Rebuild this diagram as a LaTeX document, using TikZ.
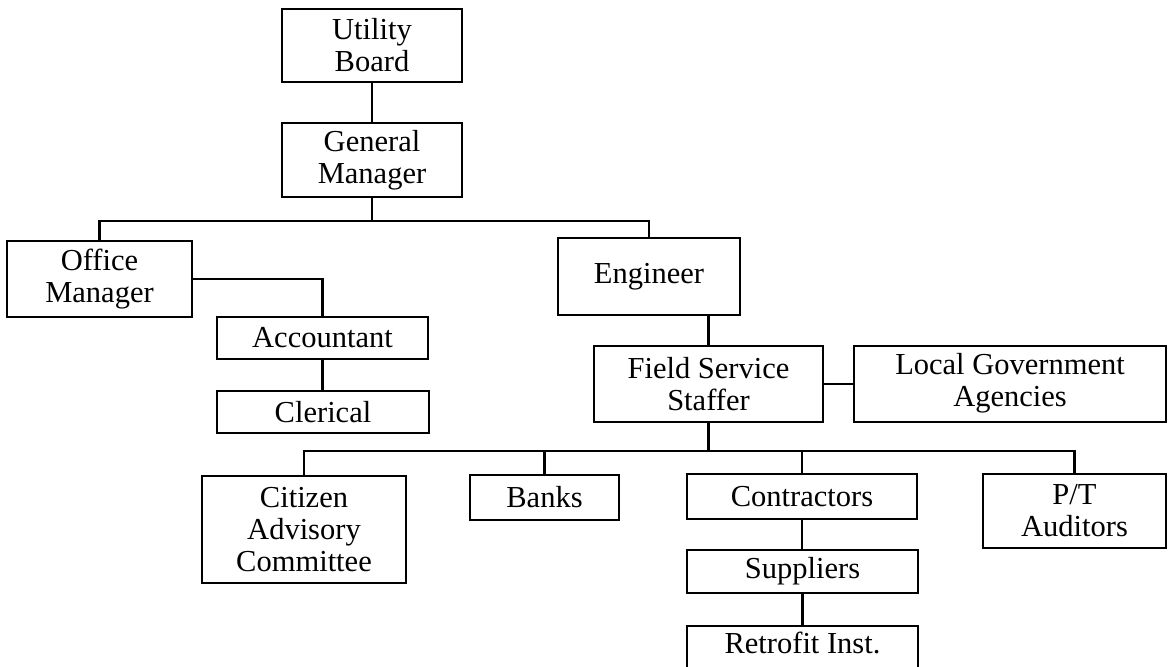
\documentclass[tikz,border=0pt]{standalone}
\usepackage{fontspec}
\setmainfont{Liberation Serif}
\begin{document}
\begin{tikzpicture}[x=1pt,y=-1pt,
  box/.style={draw=black, line width=2pt, rectangle, inner sep=0pt, align=center,
    font=\fontsize{30.5}{32}\selectfont},
  conn/.style={draw=black, line width=2.6pt}]
\useasboundingbox (0,0) rectangle (1168,667);
\clip (0,0) rectangle (1168,667);
\fill[white] (0,0) rectangle (1168,667);
% boxes
\node[box, minimum width=180pt, minimum height=73pt] (ub) at (372,45.5) {Utility\\Board};
\node[box, minimum width=180pt, minimum height=74pt] (gm) at (372,160) {General\\Manager};
\node[box, minimum width=185pt, minimum height=76pt] (om) at (99.5,279) {Office\\Manager};
\node[box, minimum width=211pt, minimum height=42pt] (acc) at (322.5,338) {Accountant};
\node[box, minimum width=212pt, minimum height=42pt] (cle) at (323,412) {Clerical};
\node[box, minimum width=182pt, minimum height=77pt] (eng) at (649,276.5) {Engineer};
\node[box, minimum width=229pt, minimum height=76pt] (fss) at (708.5,384) {Field Service\\Staffer};
\node[box, minimum width=312pt, minimum height=76pt] (lga) at (1010,383.5) {Local Government\\Agencies};
\node[box, minimum width=204pt, minimum height=107pt] (cit) at (304,529.5) {Citizen\\Advisory\\Committee};
\node[box, minimum width=149pt, minimum height=45pt] (bnk) at (544.5,497.5) {Banks};
\node[box, minimum width=230pt, minimum height=45pt] (con) at (802,496.5) {Contractors};
\node[box, minimum width=183pt, minimum height=74pt] (pt) at (1074.5,511) {P/T\\Auditors};
\node[box, minimum width=231pt, minimum height=43pt] (sup) at (802.5,571.5) {Suppliers};
\node[box, minimum width=231pt, text height=27pt, text depth=40pt, anchor=north] (ret) at (802.5,625) {Retrofit Inst.};
% bus coordinates
\coordinate (bus1) at (372,221);
\coordinate (bus2) at (708.5,451);
% connectors
\draw[conn] (ub.south) -- (gm.north);
\draw[conn] (gm.south) -- (bus1);
\draw[conn] (om.north) |- (bus1) -| (eng.north);
\draw[conn] (om.east) -| (acc.north);
\draw[conn] (acc.south) -- (acc.south |- cle.north);
\draw[conn] (eng.south -| fss.north) -- (fss.north);
\draw[conn] (fss.east) -- (fss.east -| lga.west);
\draw[conn] (fss.south) -- (bus2);
\draw[conn] (cit.north) |- (bus2) -| (pt.north);
\draw[conn] (bnk.north) -- (bnk.north |- bus2);
\draw[conn] (con.north) -- (con.north |- bus2);
\draw[conn] (con.south) -- (con.south |- sup.north);
\draw[conn] (sup.south) -- (sup.south |- ret.north);
\end{tikzpicture}
\end{document}
